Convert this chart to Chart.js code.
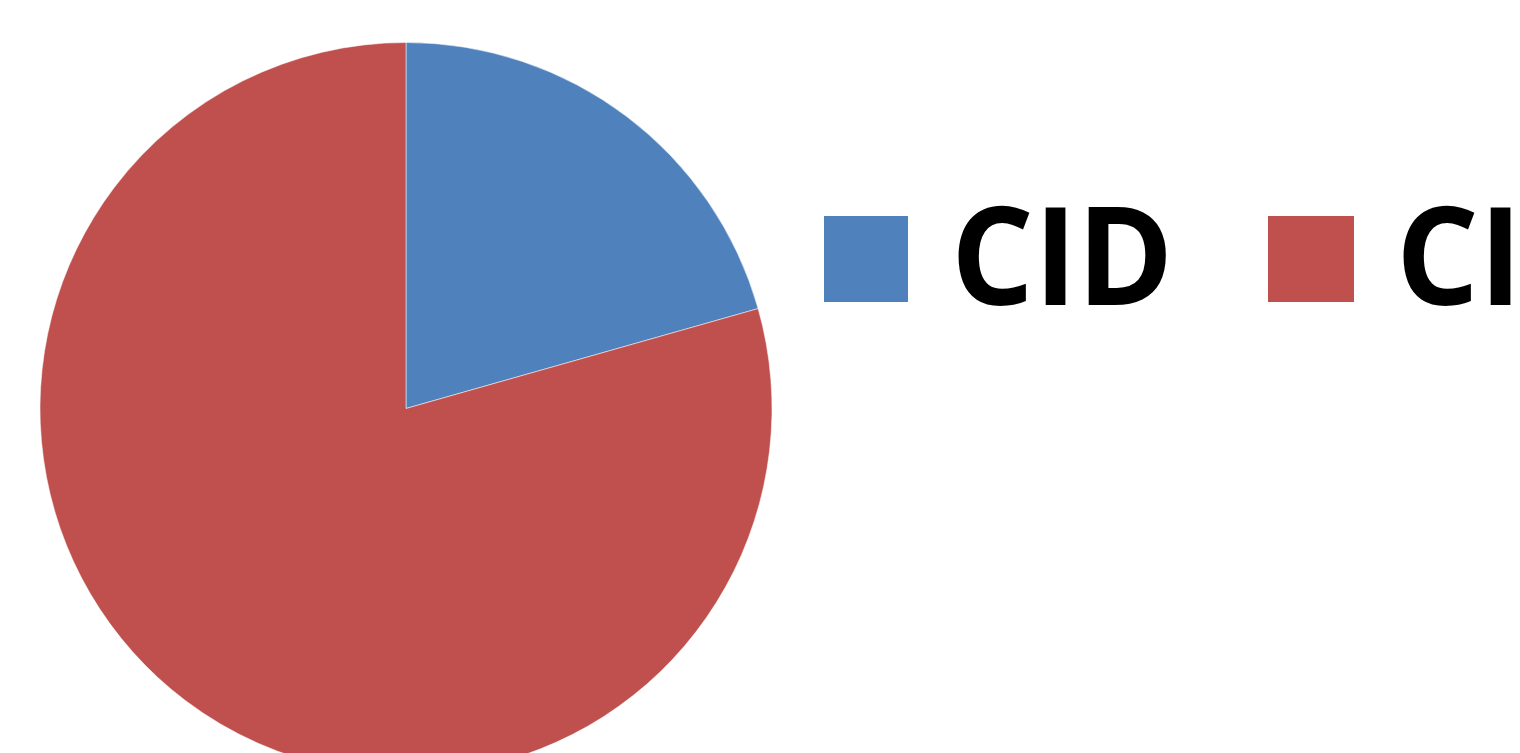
<!DOCTYPE html>
<html>
<head>
<meta charset="utf-8">
<script src="https://cdn.jsdelivr.net/npm/chart.js@4"></script>
<style>
    html, body { margin: 0; padding: 0; background: #fff; overflow: hidden; }
    #wrap { position: relative; width: 1520px; height: 753px; overflow: hidden; }
    #chart-box { position: absolute; left: 0; top: 0; width: 1520px; height: 800px; }
    .legend-box { position: absolute; width: 84px; height: 86px; top: 216px; }
    .legend-text {
        position: absolute; top: 184px; white-space: nowrap;
        font-family: "Open Sans", sans-serif; font-weight: 700;
        font-size: 137px; line-height: 137px; color: #000;
        transform-origin: left top; transform: scaleX(0.95);
    }
</style>
</head>
<body>
<div id="wrap">
    <div id="chart-box"><canvas id="pie-chart" width="1520" height="800"></canvas></div>
    <div id="legend"></div>
</div>
<script>
    const labels = ['CID', 'CIC'];
    const values = [20.6, 79.4];
    const colors = ['#4F81BD', '#C0504D'];

    // legend placement (x of square, x of text)
    const legendPos = [[824, 951], [1268, 1396]];

    const ctx = document.getElementById('pie-chart').getContext('2d');

    const chart = new Chart(ctx, {
        type: 'pie',
        data: {
            labels: labels,
            datasets: [{
                data: values,
                backgroundColor: colors,
                borderColor: 'rgba(255,255,255,0.5)',
                borderWidth: 1
            }]
        },
        options: {
            responsive: false,
            animation: false,
            layout: { padding: { left: 39, top: 42, right: 747, bottom: 25 } },
            plugins: {
                legend: { display: false },
                tooltip: { enabled: false }
            }
        }
    });

    const legendEl = document.getElementById('legend');
    labels.forEach((lab, i) => {
        legendEl.innerHTML += `
            <div class="legend-box" style="left:${legendPos[i][0]}px;width:${i ? 86 : 84}px;background:${colors[i]}"></div>
            <div class="legend-text" style="left:${legendPos[i][1]}px">${lab}</div>`;
    });
</script>
</body>
</html>
